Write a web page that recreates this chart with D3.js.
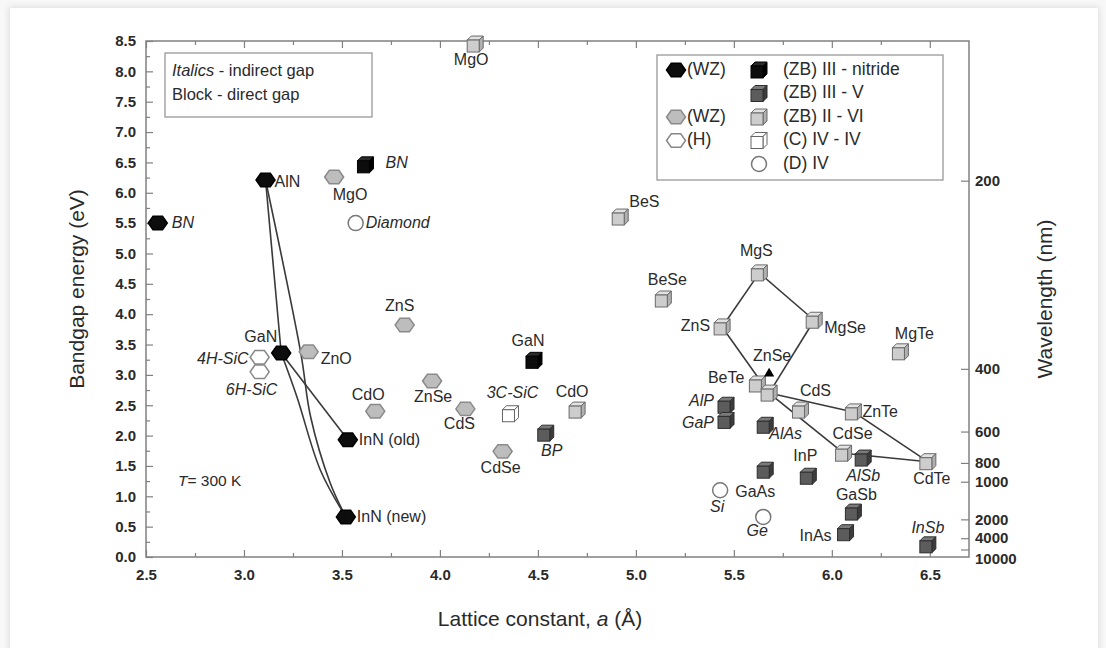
<!doctype html>
<html lang="en">
<head>
<meta charset="UTF-8">
<title>Bandgap vs lattice constant</title>
<style>
  body { margin: 0; background: #fff; }
  svg text { font-family: "Liberation Sans", Arial, sans-serif; fill: #2a2a2a; }
</style>
</head>
<body>
<div class="container"></div>
<script src="https://d3js.org/d3.v7.min.js"></script>
<script>
  // ---- data (lattice constant a in angstrom, bandgap eg in eV) ----
  const wzNitride = [
    { name: 'BN', a: 2.56, eg: 5.50, indirect: true },
    { name: 'AlN', a: 3.11, eg: 6.21 },
    { name: 'GaN', a: 3.19, eg: 3.36 },
    { name: 'InN (old)', a: 3.53, eg: 1.93 },
    { name: 'InN (new)', a: 3.52, eg: 0.66 }
  ];
  const wzII_VI = [
    { name: 'MgO', a: 3.46, eg: 6.26 },
    { name: 'ZnS', a: 3.82, eg: 3.82 },
    { name: 'ZnO', a: 3.33, eg: 3.38 },
    { name: 'CdO', a: 3.67, eg: 2.40 },
    { name: 'ZnSe', a: 3.96, eg: 2.90 },
    { name: 'CdS', a: 4.13, eg: 2.44 },
    { name: 'CdSe', a: 4.32, eg: 1.74 }
  ];
  const hexSiC = [
    { name: '4H-SiC', a: 3.08, eg: 3.29, indirect: true },
    { name: '6H-SiC', a: 3.08, eg: 3.05, indirect: true }
  ];
  const zbNitride = [
    { name: 'BN', a: 3.62, eg: 6.46, indirect: true },
    { name: 'GaN', a: 4.48, eg: 3.24 }
  ];
  const zbIII_V = [
    { name: 'BP', a: 4.54, eg: 2.04, indirect: true },
    { name: 'AlP', a: 5.46, eg: 2.50, indirect: true },
    { name: 'GaP', a: 5.46, eg: 2.25, indirect: true },
    { name: 'AlAs', a: 5.66, eg: 2.17, indirect: true },
    { name: 'GaAs', a: 5.66, eg: 1.43 },
    { name: 'InP', a: 5.88, eg: 1.33 },
    { name: 'AlSb', a: 6.16, eg: 1.63, indirect: true },
    { name: 'GaSb', a: 6.11, eg: 0.74 },
    { name: 'InAs', a: 6.07, eg: 0.40 },
    { name: 'InSb', a: 6.49, eg: 0.20, indirect: true }
  ];
  const zbII_VI = [
    { name: 'MgO', a: 4.18, eg: 8.45 },
    { name: 'BeS', a: 4.92, eg: 5.60 },
    { name: 'BeSe', a: 5.14, eg: 4.25 },
    { name: 'ZnS', a: 5.44, eg: 3.79 },
    { name: 'MgS', a: 5.63, eg: 4.68 },
    { name: 'MgSe', a: 5.91, eg: 3.90 },
    { name: 'MgTe', a: 6.35, eg: 3.38 },
    { name: 'BeTe', a: 5.62, eg: 2.85 },
    { name: 'ZnSe', a: 5.68, eg: 2.70 },
    { name: 'CdS', a: 5.84, eg: 2.42 },
    { name: 'ZnTe', a: 6.11, eg: 2.39 },
    { name: 'CdSe', a: 6.06, eg: 1.71 },
    { name: 'CdTe', a: 6.49, eg: 1.57 },
    { name: 'CdO', a: 4.70, eg: 2.42 }
  ];
  const cubicIV_IV = [
    { name: '3C-SiC', a: 4.36, eg: 2.36, indirect: true }
  ];
  const diamondIV = [
    { name: 'Diamond', a: 3.57, eg: 5.50, indirect: true },
    { name: 'Si', a: 5.43, eg: 1.10, indirect: true },
    { name: 'Ge', a: 5.65, eg: 0.66, indirect: true }
  ];
  // small arrow marker sitting on ZB ZnSe
  const arrowMarks = [{ a: 5.68, eg: 3.02 }];

  // alloy lines
  const alnGan = [[3.11, 6.21], [3.19, 3.36]];
  const alnInnNew = [[3.11, 6.21], [3.29, 3.36], [3.34, 2.31], [3.44, 1.22], [3.52, 0.66]];
  const ganInnNew = [[3.19, 3.36], [3.27, 2.64], [3.39, 1.43], [3.52, 0.66]];
  const ganInnOld = [[3.19, 3.36], [3.53, 1.93]];
  const zbTies = [
    ['ZnS', 'MgS'], ['MgS', 'MgSe'], ['MgSe', 'ZnSe'], ['ZnS', 'ZnSe'],
    ['ZnSe', 'CdSe'], ['ZnSe', 'ZnTe'], ['ZnTe', 'CdTe'], ['CdSe', 'CdTe']
  ];

  const yTicks = [0, 0.5, 1, 1.5, 2, 2.5, 3, 3.5, 4, 4.5, 5, 5.5, 6, 6.5, 7, 7.5, 8, 8.5];
  const xTicks = [2.5, 3.0, 3.5, 4.0, 4.5, 5.0, 5.5, 6.0, 6.5];
  const wavelengthTicks = [200, 400, 600, 800, 1000, 2000, 4000, 10000];

  // ---- label placement [dx, dy, anchor] ----
  const labelPos = {
    'wzN:BN': [14, 1, 'start'], 'wzN:AlN': [9, 3, 'start'], 'wzN:GaN': [-4, -15, 'end'],
    'wzN:InN (old)': [11, 1, 'start'], 'wzN:InN (new)': [11, 1, 'start'],
    'wz2:MgO': [16, 19, 'middle'], 'wz2:ZnS': [-5, -18, 'middle'], 'wz2:ZnO': [12, 8, 'start'],
    'wz2:CdO': [-7, -16, 'middle'], 'wz2:ZnSe': [1, 17, 'middle'], 'wz2:CdS': [-6, 16, 'middle'],
    'wz2:CdSe': [-2, 17, 'middle'],
    'h:4H-SiC': [-11, 3, 'end'], 'h:6H-SiC': [-8, 19, 'middle'],
    'zbN:BN': [20, -1, 'start'], 'zbN:GaN': [-6, -19, 'middle'],
    'zb35:BP': [6, 19, 'middle'], 'zb35:AlP': [-12, -3, 'end'], 'zb35:GaP': [-12, 3, 'end'],
    'zb35:AlAs': [4, 10, 'start'], 'zb35:GaAs': [-10, 23, 'middle'], 'zb35:InP': [-3, -19, 'middle'],
    'zb35:AlSb': [0, 19, 'middle'], 'zb35:GaSb': [3, -16, 'middle'], 'zb35:InAs': [-14, 4, 'end'],
    'zb35:InSb': [0, -16, 'middle'],
    'zb26:MgO': [-4, 17, 'middle'], 'zb26:BeS': [9, -14, 'start'], 'zb26:BeSe': [4, -18, 'middle'],
    'zb26:ZnS': [-12, 0, 'end'], 'zb26:MgS': [-3, -21, 'middle'], 'zb26:MgSe': [10, 9, 'start'],
    'zb26:MgTe': [14, -17, 'middle'], 'zb26:ZnSe': [3, -36, 'middle'], 'zb26:BeTe': [-13, -5, 'end'],
    'zb26:CdS': [15, -18, 'middle'], 'zb26:ZnTe': [9, 1, 'start'], 'zb26:CdSe': [9, -18, 'middle'],
    'zb26:CdTe': [4, 18, 'middle'], 'zb26:CdO': [-5, -17, 'middle'],
    'c:3C-SiC': [2, -20, 'middle'],
    'd:Diamond': [10, 1, 'start'], 'd:Si': [-3, 18, 'middle'], 'd:Ge': [-6, 15, 'middle']
  };

  // ---- layout ----
  const W = 1106, H = 648;
  const LEFT = 146, RIGHT = 969, TOP = 41, BOTTOM = 557;

  const svg = d3.select('.container').append('svg')
    .attr('width', W).attr('height', H);

  const defs = svg.append('defs');
  const shadow = defs.append('filter').attr('id', 'soft').attr('x', '-5%').attr('y', '-5%')
    .attr('width', '110%').attr('height', '110%');
  shadow.append('feGaussianBlur').attr('stdDeviation', 3);

  // card edge like the scanned figure
  svg.append('rect').attr('x', 0).attr('y', 0).attr('width', W).attr('height', H).attr('fill', '#f8f8f8');
  svg.append('rect').attr('x', 9).attr('y', 7).attr('width', W - 16).attr('height', H).attr('fill', '#dcdcdc')
    .attr('filter', 'url(#soft)');
  svg.append('rect').attr('x', 10).attr('y', 8).attr('width', W - 18).attr('height', H).attr('fill', '#fff');

  const x = d3.scaleLinear().domain([2.5, 6.7]).range([LEFT, RIGHT]);
  const y = d3.scaleLinear().domain([0, 8.5]).range([BOTTOM, TOP]);

  const minorY = yTicks.slice(0, -1).map(v => v + 0.25);
  const minorX = xTicks.slice(0, -1).map(v => v + 0.25);

  const axisColor = '#808080';
  function styleAxis(g) {
    g.select('.domain').remove();
    g.selectAll('line').attr('stroke', axisColor).attr('stroke-width', 1.2);
    g.selectAll('text').style('font-size', '15px').style('font-weight', 'bold').attr('fill', '#333');
  }

  // left
  svg.append('g').attr('transform', `translate(${LEFT},0)`)
    .call(d3.axisLeft(y).tickValues(yTicks).tickFormat(d3.format('.1f')).tickSizeInner(-7).tickSizeOuter(0).tickPadding(10))
    .call(styleAxis);
  svg.append('g').attr('transform', `translate(${LEFT},0)`)
    .call(d3.axisLeft(y).tickValues(minorY).tickFormat('').tickSizeInner(-4).tickSizeOuter(0))
    .call(styleAxis);
  // bottom
  svg.append('g').attr('transform', `translate(0,${BOTTOM})`)
    .call(d3.axisBottom(x).tickValues(xTicks).tickFormat(d3.format('.1f')).tickSizeInner(-7).tickSizeOuter(0).tickPadding(12))
    .call(styleAxis);
  svg.append('g').attr('transform', `translate(0,${BOTTOM})`)
    .call(d3.axisBottom(x).tickValues(minorX).tickFormat('').tickSizeInner(-4).tickSizeOuter(0))
    .call(styleAxis);
  // top
  svg.append('g').attr('transform', `translate(0,${TOP})`)
    .call(d3.axisTop(x).tickValues(xTicks).tickFormat('').tickSizeInner(-7).tickSizeOuter(0))
    .call(styleAxis);
  svg.append('g').attr('transform', `translate(0,${TOP})`)
    .call(d3.axisTop(x).tickValues(minorX).tickFormat('').tickSizeInner(-4).tickSizeOuter(0))
    .call(styleAxis);
  // right: wavelength (nm) = 1239.84 / E
  const rightAxis = svg.append('g').attr('transform', `translate(${RIGHT},0)`)
    .call(d3.axisRight(y).tickValues(wavelengthTicks.map(l => 1239.84 / l))
      .tickFormat((d, i) => wavelengthTicks[i]).tickSizeInner(-8).tickSizeOuter(0).tickPadding(6))
    .call(styleAxis);
  rightAxis.selectAll('text').filter((d, i) => wavelengthTicks[i] === 10000).attr('dy', '0.95em');

  // frame
  svg.append('rect').attr('x', LEFT).attr('y', TOP).attr('width', RIGHT - LEFT).attr('height', BOTTOM - TOP)
    .attr('fill', 'none').attr('stroke', axisColor).attr('stroke-width', 1.5);

  // axis titles
  svg.append('text').attr('transform', `translate(84,${(TOP + BOTTOM) / 2 - 10}) rotate(-90)`)
    .attr('text-anchor', 'middle').style('font-size', '21px').text('Bandgap energy (eV)');
  svg.append('text').attr('transform', `translate(1052,${(TOP + BOTTOM) / 2}) rotate(-90)`)
    .attr('text-anchor', 'middle').style('font-size', '21px').text('Wavelength (nm)');
  const xt = svg.append('text').attr('x', 540).attr('y', 626).attr('text-anchor', 'middle').style('font-size', '21px');
  xt.append('tspan').text('Lattice constant, ');
  xt.append('tspan').style('font-style', 'italic').text('a');
  xt.append('tspan').text(' (Å)');

  // ---- glyphs ----
  const hexPts = r => d3.range(6).map(k => {
    const t = Math.PI / 3 * k;
    return [r * Math.cos(t), r * 0.82 * Math.sin(t)];
  });
  const styles = {
    hexBlack: { fill: '#0d0d0d', stroke: '#000' },
    hexGray: { fill: '#bdbdbd', stroke: '#8a8a8a' },
    hexOpen: { fill: '#fff', stroke: '#888' },
    cubeBlack: { front: '#0d0d0d', top: '#2a2a2a', side: '#000', stroke: '#000' },
    cubeDark: { front: '#5c5c5c', top: '#7a7a7a', side: '#3c3c3c', stroke: '#2e2e2e' },
    cubeLight: { front: '#cdcdcd', top: '#e2e2e2', side: '#b0b0b0', stroke: '#6a6a6a' },
    cubeOpen: { front: '#fff', top: '#fff', side: '#fff', stroke: '#666' }
  };

  function drawGlyph(g, kind, cx, cy) {
    if (kind.startsWith('hex')) {
      const st = styles[kind];
      g.append('polygon')
        .attr('points', hexPts(9.5).map(p => [cx + p[0], cy + p[1]].join(',')).join(' '))
        .attr('fill', st.fill).attr('stroke', st.stroke).attr('stroke-width', 1.5);
    } else if (kind === 'circle') {
      g.append('circle').attr('cx', cx).attr('cy', cy).attr('r', 7.5)
        .attr('fill', '#fff').attr('stroke', '#777').attr('stroke-width', 1.5);
    } else {
      const st = styles[kind];
      const s = 12, d = 4;
      const fx = cx - (s + d) / 2, fy = cy - (s - d) / 2;
      const path = pts => 'M' + pts.map(p => p.join(',')).join('L') + 'Z';
      g.append('path').attr('d', path([[fx, fy], [fx + d, fy - d], [fx + s + d, fy - d], [fx + s, fy]]))
        .attr('fill', st.top).attr('stroke', st.stroke).attr('stroke-width', 1).attr('stroke-linejoin', 'round');
      g.append('path').attr('d', path([[fx + s, fy], [fx + s + d, fy - d], [fx + s + d, fy + s - d], [fx + s, fy + s]]))
        .attr('fill', st.side).attr('stroke', st.stroke).attr('stroke-width', 1).attr('stroke-linejoin', 'round');
      g.append('rect').attr('x', fx).attr('y', fy).attr('width', s).attr('height', s)
        .attr('fill', st.front).attr('stroke', st.stroke).attr('stroke-width', 1);
    }
  }

  // ---- alloy lines ----
  const lineGen = d3.line().x(d => x(d[0])).y(d => y(d[1]));
  const curveGen = d3.line().x(d => x(d[0])).y(d => y(d[1])).curve(d3.curveCatmullRom.alpha(0.5));
  const lines = svg.append('g').attr('fill', 'none').attr('stroke', '#3a3a3a').attr('stroke-width', 1.6);
  [alnGan, ganInnOld].forEach(p => lines.append('path').attr('d', lineGen(p)));
  [alnInnNew, ganInnNew].forEach(p => lines.append('path').attr('d', curveGen(p)));
  const zbByName = Object.fromEntries(zbII_VI.map(d => [d.name, d]));
  zbTies.forEach(([p, q]) => lines.append('path')
    .attr('d', lineGen([[zbByName[p].a, zbByName[p].eg], [zbByName[q].a, zbByName[q].eg]])));

  // ---- points + labels ----
  const series = [
    { key: 'wzN', data: wzNitride, kind: 'hexBlack' },
    { key: 'wz2', data: wzII_VI, kind: 'hexGray' },
    { key: 'h', data: hexSiC, kind: 'hexOpen' },
    { key: 'zbN', data: zbNitride, kind: 'cubeBlack' },
    { key: 'zb35', data: zbIII_V, kind: 'cubeDark' },
    { key: 'zb26', data: zbII_VI, kind: 'cubeLight' },
    { key: 'c', data: cubicIV_IV, kind: 'cubeOpen' },
    { key: 'd', data: diamondIV, kind: 'circle' }
  ];
  const marks = svg.append('g');
  const labels = svg.append('g').style('font-size', '16px');
  series.forEach(s => {
    s.data.forEach(d => {
      drawGlyph(marks.append('g'), s.kind, x(d.a), y(d.eg));
      const [dx, dy, anchor] = labelPos[s.key + ':' + d.name] || [10, 0, 'start'];
      labels.append('text')
        .attr('x', x(d.a) + dx).attr('y', y(d.eg) + dy)
        .attr('dominant-baseline', 'middle').attr('text-anchor', anchor)
        .style('font-style', d.indirect ? 'italic' : 'normal')
        .text(d.name);
    });
  });

  // arrow marker on ZnSe
  svg.append('g').selectAll('path').data(arrowMarks).join('path')
    .attr('d', d3.symbol(d3.symbolTriangle, 45))
    .attr('transform', d => `translate(${x(d.a)},${y(d.eg)})`)
    .attr('fill', '#000');

  // ---- legend boxes ----
  const box1 = svg.append('g');
  box1.append('rect').attr('x', 165).attr('y', 53).attr('width', 207).attr('height', 64)
    .attr('fill', '#fff').attr('stroke', '#999').attr('stroke-width', 1.3);
  const t1 = box1.append('text').attr('x', 172).attr('y', 76).style('font-size', '16.5px');
  t1.append('tspan').style('font-style', 'italic').text('Italics');
  t1.append('tspan').text(' - indirect gap');
  box1.append('text').attr('x', 172).attr('y', 100).style('font-size', '16.5px').text('Block  - direct gap');

  const box2 = svg.append('g');
  box2.append('rect').attr('x', 657).attr('y', 55).attr('width', 286).attr('height', 125)
    .attr('fill', '#fff').attr('stroke', '#999').attr('stroke-width', 1.3);
  const legendRows = [
    { left: 'hexBlack', leftText: '(WZ)', right: 'cubeBlack', text: '(ZB) III - nitride' },
    { left: null, leftText: '', right: 'cubeDark', text: '(ZB) III - V' },
    { left: 'hexGray', leftText: '(WZ)', right: 'cubeLight', text: '(ZB) II - VI' },
    { left: 'hexOpen', leftText: '(H)', right: 'cubeOpen', text: '(C)  IV - IV' },
    { left: null, leftText: '', right: 'circle', text: '(D)  IV' }
  ];
  legendRows.forEach((r, i) => {
    const cy = 70 + i * 23.5;
    if (r.left) {
      drawGlyph(box2.append('g'), r.left, 676, cy);
      box2.append('text').attr('x', 687).attr('y', cy).attr('dominant-baseline', 'middle')
        .style('font-size', '17.5px').text(r.leftText);
    }
    drawGlyph(box2.append('g'), r.right, 759, cy);
    box2.append('text').attr('x', 783).attr('y', cy).attr('dominant-baseline', 'middle')
      .style('font-size', '17.5px').text(r.text);
  });

  // temperature note
  const tn = svg.append('text').attr('x', 178).attr('y', 482).attr('dominant-baseline', 'middle')
    .style('font-size', '15.5px');
  tn.append('tspan').style('font-style', 'italic').text('T');
  tn.append('tspan').text('= 300 K');
</script>
</body>
</html>
